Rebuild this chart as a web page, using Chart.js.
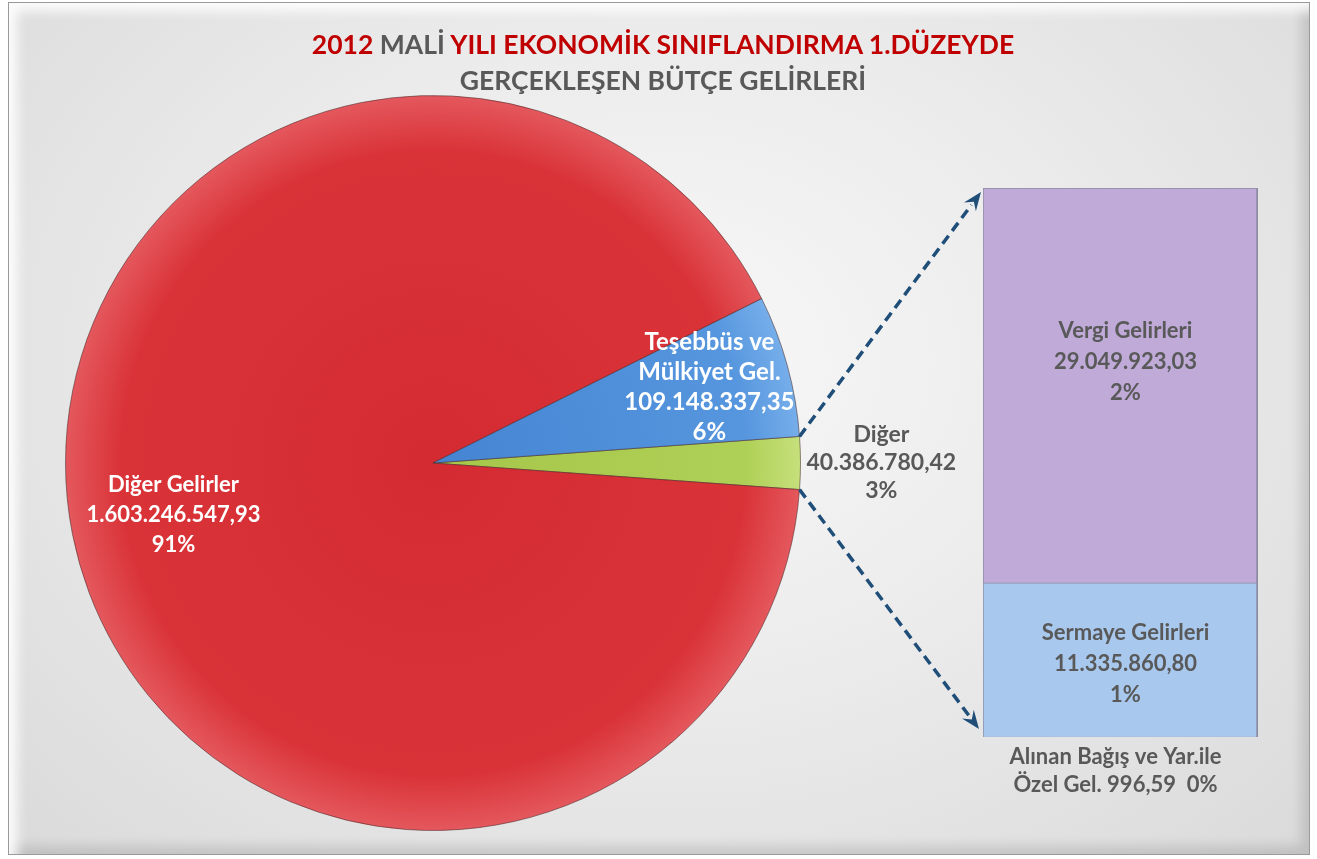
<!DOCTYPE html>
<html>
<head>
<meta charset="utf-8">
<script src="https://cdn.jsdelivr.net/npm/chart.js@4.4.1/dist/chart.umd.min.js"></script>
<style>
  body { margin: 0; background: #fff; font-family: Lato, "Open Sans", sans-serif; }
  #wrap { position: relative; width: 1317px; height: 859px; overflow: hidden; }
  #frame {
    position: absolute; left: 8px; top: 2px; width: 1300px; height: 851px;
    border: 1px solid #9a9a9a;
    background: radial-gradient(ellipse at 50% 42%, #f8f8f8 0%, #ececec 45%, #dadada 100%);
    box-shadow: inset 14px 14px 12px -6px rgba(255,255,255,0.9), inset -14px -14px 12px -6px rgba(0,0,0,0.12);
  }
  #title { position: absolute; left: 0; top: 26px; width: 1326px; text-align: center;
    font-weight: bold; font-size: 26.5px; line-height: 36px; color: #595959; }
  .red { color: #c00000; }
  #pieCanvas { position: absolute; left: 0; top: 0; }
  #barCanvas { position: absolute; left: 950px; top: 170px; }
</style>
</head>
<body>
<div id="wrap">
  <div id="frame"></div>
  <canvas id="pieCanvas" width="1317" height="859"></canvas>
  <canvas id="barCanvas" width="340" height="660"></canvas>
  <div id="title">
    <div><span class="red">2012</span> MALİ <span class="red">YILI EKONOMİK SINIFLANDIRMA 1.DÜZEYDE</span></div>
    <div>GERÇEKLEŞEN BÜTÇE GELİRLERİ</div>
  </div>
</div>
<script>
// Pie: first slice is the "Diğer" group that is split out into the bar
const pieLabels = ['Diğer', 'Diğer Gelirler', 'Teşebbüs ve|Mülkiyet Gel.'];
const pieValues = [40386780.42, 1603246547.93, 109148337.35];
const pieShares = ['3%', '91%', '6%'];

// Bar (breakdown of "Diğer"), top to bottom
const barLabels = ['Vergi Gelirleri', 'Sermaye Gelirleri', 'Alınan Bağış ve Yar.ile|Özel Gel.'];
const barValues = [29049923.03, 11335860.80, 996.59];
const barShares = ['2%', '1%', '0%'];

function fmt(v) {
  const parts = v.toFixed(2).split('.');
  return parts[0].replace(/\B(?=(\d{3})+(?!\d))/g, '.') + ',' + parts[1];
}

function drawLines(ctx, lines, x, y, lh) {
  const top = y - (lines.length - 1) * lh / 2;
  lines.forEach((t, i) => ctx.fillText(t, x, top + i * lh));
}

function radial(ctx, area, inner, outer, edge) {
  const cx = (area.left + area.right) / 2, cy = (area.top + area.bottom) / 2;
  const r = Math.min(area.width, area.height) / 2;
  const g = ctx.createRadialGradient(cx, cy, 0, cx, cy, r);
  g.addColorStop(0, inner);
  g.addColorStop(0.85, outer);
  g.addColorStop(1, edge);
  return g;
}

const pieFills = [
  ['#a6c64a', '#afd056', '#c6e07c'],
  ['#d42b32', '#d93338', '#e4585d'],
  ['#4584d2', '#5696de', '#76aeea']
];

// ---- bar chart (stacked, bottom dataset first) ----
const barOrder = [2, 1, 0];
const barColors = ['#bfaad8', '#a8c8ee', '#e0a0a0'];

const barLabelPlugin = {
  id: 'barLabels',
  afterDatasetsDraw(chart) {
    const ctx = chart.ctx;
    ctx.save();
    ctx.fillStyle = '#595959';
    ctx.font = 'bold 22px Lato';
    ctx.textAlign = 'center';
    ctx.textBaseline = 'middle';
    chart.data.datasets.forEach((ds, di) => {
      const el = chart.getDatasetMeta(di).data[0];
      const i = ds.idx;
      if (i === 2) {
        const lines = barLabels[i].split('|');
        drawLines(ctx, [lines[0], lines[1] + ' ' + fmt(barValues[i]) + '  ' + barShares[i]], el.x - 5, el.base + 34, 28);
      } else {
        const cy = (el.y + el.base) / 2 + (i === 0 ? -24 : 4);
        drawLines(ctx, [barLabels[i], fmt(barValues[i]), barShares[i]], el.x + 5, cy, 31);
      }
    });
    ctx.restore();
  }
};

const barChart = new Chart(document.getElementById('barCanvas'), {
  type: 'bar',
  data: {
    labels: ['Diğer'],
    datasets: barOrder.map(i => ({
      label: barLabels[i].replace('|', ' '),
      idx: i,
      data: [barValues[i]],
      backgroundColor: barColors[i],
      borderColor: '#8a8aa0',
      borderWidth: { left: 1, right: 2, top: 1, bottom: 0 },
      barPercentage: 1,
      categoryPercentage: 1
    }))
  },
  options: {
    responsive: false,
    animation: false,
    layout: { padding: { left: 33, right: 32, top: 18, bottom: 93 } },
    plugins: { legend: { display: false }, tooltip: { enabled: false } },
    scales: {
      x: { display: false, stacked: true },
      y: { display: false, stacked: true, min: 0, max: barValues.reduce((a, b) => a + b, 0) }
    }
  },
  plugins: [barLabelPlugin]
});

// ---- pie chart ----
const total = pieValues.reduce((a, b) => a + b, 0);

const pieLabelPlugin = {
  id: 'pieLabels',
  afterDatasetsDraw(chart) {
    const ctx = chart.ctx;
    const meta = chart.getDatasetMeta(0);
    ctx.save();
    ctx.textAlign = 'center';
    ctx.textBaseline = 'middle';
    const spec = [
      { f: 1.22, size: 23, color: '#595959', lh: 28 },
      { f: 0.72, size: 22, color: '#ffffff', lh: 30 },
      { f: 0.78, size: 24, color: '#ffffff', lh: 30 }
    ];
    meta.data.forEach((arc, i) => {
      const s = spec[i];
      const mid = (arc.startAngle + arc.endAngle) / 2;
      const x = arc.x + Math.cos(mid) * arc.outerRadius * s.f;
      const y = arc.y + Math.sin(mid) * arc.outerRadius * s.f;
      ctx.fillStyle = s.color;
      ctx.font = 'bold ' + s.size + 'px Lato';
      const lines = pieLabels[i].split('|').concat([fmt(pieValues[i]), pieShares[i]]);
      drawLines(ctx, lines, x, y, s.lh);
    });
    ctx.restore();
  }
};

// dashed arrows from the split slice to the bar corners
const arrowPlugin = {
  id: 'arrows',
  afterDraw(chart) {
    const ctx = chart.ctx;
    const arc = chart.getDatasetMeta(0).data[0];
    const R = arc.outerRadius;
    const off = document.getElementById('barCanvas');
    const ox = off.offsetLeft, oy = off.offsetTop;
    const topEl = barChart.getDatasetMeta(barChart.data.datasets.length - 1).data[0];
    const botEl = barChart.getDatasetMeta(0).data[0];
    const bx = topEl.x - topEl.width / 2 + ox;
    const pairs = [
      [arc.x + Math.cos(arc.startAngle) * R, arc.y + Math.sin(arc.startAngle) * R, bx - 2, topEl.y + oy + 4],
      [arc.x + Math.cos(arc.endAngle) * R, arc.y + Math.sin(arc.endAngle) * R, bx - 4, botEl.base + oy - 8]
    ];
    ctx.save();
    ctx.strokeStyle = '#1f4e79';
    ctx.fillStyle = '#1f4e79';
    ctx.lineWidth = 3.5;
    pairs.forEach(([x1, y1, x2, y2]) => {
      const a = Math.atan2(y2 - y1, x2 - x1);
      const hl = 20;
      const ex = x2 - Math.cos(a) * hl * 0.8, ey = y2 - Math.sin(a) * hl * 0.8;
      ctx.setLineDash([10, 6]);
      ctx.beginPath();
      ctx.moveTo(x1, y1);
      ctx.lineTo(ex, ey);
      ctx.stroke();
      ctx.setLineDash([]);
      ctx.beginPath();
      ctx.moveTo(x2, y2);
      ctx.lineTo(x2 - Math.cos(a - 0.38) * hl, y2 - Math.sin(a - 0.38) * hl);
      ctx.lineTo(x2 - Math.cos(a) * hl * 0.6, y2 - Math.sin(a) * hl * 0.6);
      ctx.lineTo(x2 - Math.cos(a + 0.38) * hl, y2 - Math.sin(a + 0.38) * hl);
      ctx.closePath();
      ctx.fill();
    });
    ctx.restore();
  }
};

new Chart(document.getElementById('pieCanvas'), {
  type: 'pie',
  data: {
    labels: pieLabels.map(l => l.replace('|', ' ')),
    datasets: [{
      data: pieValues,
      backgroundColor: (c) => {
        const area = c.chart.chartArea;
        if (!area) return pieFills[c.dataIndex][1];
        const f = pieFills[c.dataIndex];
        return radial(c.chart.ctx, area, f[0], f[1], f[2]);
      },
      borderColor: 'rgba(70,40,40,0.55)',
      borderWidth: 1
    }]
  },
  options: {
    responsive: false,
    animation: false,
    // first slice centred on the right-hand side
    rotation: 90 - (pieValues[0] / total) * 180,
    layout: { padding: { left: 65, right: 516, top: 95, bottom: 28 } },
    plugins: { legend: { display: false }, tooltip: { enabled: false } }
  },
  plugins: [pieLabelPlugin, arrowPlugin]
});
</script>
</body>
</html>
